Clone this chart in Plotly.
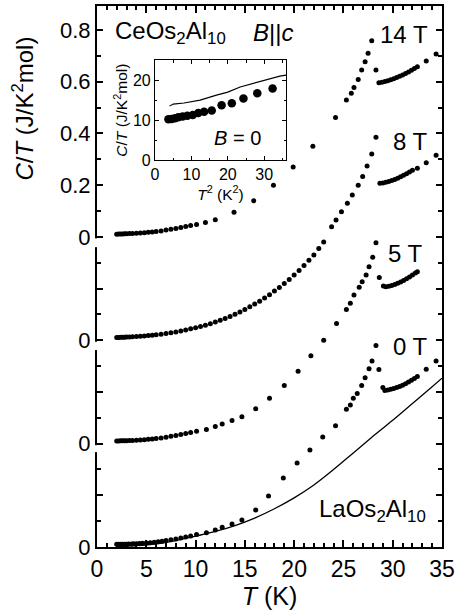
import plotly.graph_objects as go

# ---------------- data ----------------
# main panel: C/T (J/K^2 mol) vs T (K); curves offset by 0.4 each
T_0T = [2.0, 2.2, 2.4, 2.6, 2.8, 3.0, 3.2, 3.5, 3.7, 4.0, 4.3, 4.6, 5.0, 5.4, 5.8, 6.2, 6.6, 7.0, 7.5, 8.0,
        8.5, 9.0, 9.5, 10.1, 11.1, 12.0, 12.7, 13.7, 14.7, 16.1, 17.4, 18.9, 20.3, 21.6, 22.9, 24.2, 25.3,
        25.7, 26.0, 26.4, 26.85, 27.2, 27.6, 27.9, 28.3, 28.6, 29.0, 29.2, 29.5, 29.8, 30.1, 30.4, 30.7,
        31.0, 31.3, 31.6, 31.9, 32.2, 32.5, 33.4, 34.4]
C_0T = [0.0102, 0.0103, 0.0105, 0.0107, 0.0109, 0.0111, 0.0113, 0.0118, 0.0121, 0.0124, 0.0137, 0.0142,
        0.0154, 0.0167, 0.018, 0.020, 0.022, 0.025, 0.028, 0.031, 0.035, 0.039, 0.043, 0.048, 0.055, 0.066,
        0.076, 0.089, 0.104, 0.143, 0.197, 0.267, 0.325, 0.375, 0.426, 0.469, 0.533, 0.549, 0.575, 0.594,
        0.625, 0.655, 0.69, 0.72, 0.78, 0.687, 0.617, 0.605, 0.607, 0.61, 0.613, 0.617, 0.621, 0.626, 0.632,
        0.638, 0.645, 0.652, 0.66, 0.688, 0.72]

T_5T = [2.0, 2.2, 2.4, 2.6, 2.8, 3.0, 3.3, 3.6, 4.0, 4.4, 4.8, 5.2, 5.6, 6.0, 6.5, 7.0, 7.5, 8.0, 8.5, 9.0,
        9.5, 10.1, 11.1, 12.0, 12.7, 13.7, 14.7, 16.1, 17.5, 19.0, 20.4, 21.7, 23.0, 24.3, 25.3, 25.7, 26.07,
        26.6, 26.9, 27.3, 27.6, 27.97, 28.3, 28.64, 29.05, 29.3, 29.6, 29.9, 30.2, 30.5, 30.8, 31.1, 31.4,
        31.7, 32.0, 32.3, 32.5]
C_5T = [0.0102, 0.0104, 0.0106, 0.0108, 0.011, 0.0112, 0.0117, 0.0122, 0.013, 0.014, 0.015, 0.0165, 0.018,
        0.0195, 0.022, 0.025, 0.028, 0.031, 0.035, 0.039, 0.043, 0.048, 0.055, 0.066, 0.076, 0.089, 0.104,
        0.135, 0.175, 0.225, 0.28, 0.34, 0.40, 0.465, 0.519, 0.543, 0.575, 0.605, 0.626, 0.652, 0.684, 0.721,
        0.777, 0.643, 0.61, 0.607, 0.609, 0.612, 0.616, 0.62, 0.625, 0.631, 0.638, 0.645, 0.652, 0.66, 0.665]

T_8T = [2.0, 2.2, 2.4, 2.6, 2.8, 3.0, 3.3, 3.6, 4.0, 4.4, 4.8, 5.2, 5.6, 6.0, 6.5, 7.0, 7.5, 8.0, 8.5, 9.0,
        9.5, 10.0, 10.5, 11.0, 11.5, 12.0, 12.5, 13.0, 13.5, 14.0, 14.5, 15.0, 15.5, 16.0, 16.5, 17.0, 17.5,
        18.0, 18.5, 19.0, 19.5, 20.0, 20.5, 21.0, 21.5, 22.0, 22.5, 23.0, 23.8, 24.25, 24.8, 25.4, 25.9, 26.5,
        26.95, 27.4, 27.87, 28.3, 28.7, 29.0, 29.3, 29.6, 29.9, 30.2, 30.5, 30.8, 31.1, 31.4, 31.7, 32.0,
        32.5, 33.4, 34.4]
C_8T = [0.0102, 0.0105, 0.011, 0.011, 0.0115, 0.012, 0.0125, 0.013, 0.014, 0.015, 0.016, 0.018, 0.019, 0.021,
        0.023, 0.026, 0.029, 0.032, 0.036, 0.040, 0.044, 0.048, 0.053, 0.058, 0.064, 0.070, 0.077, 0.084,
        0.092, 0.100, 0.109, 0.119, 0.129, 0.140, 0.151, 0.163, 0.176, 0.190, 0.204, 0.219, 0.235, 0.252,
        0.270, 0.289, 0.309, 0.33, 0.355, 0.38, 0.439, 0.465, 0.497, 0.530, 0.562, 0.600, 0.633, 0.674, 0.720,
        0.785, 0.607, 0.608, 0.611, 0.614, 0.618, 0.622, 0.627, 0.632, 0.638, 0.644, 0.651, 0.658, 0.665,
        0.687, 0.716]

T_14T = [2.0, 2.2, 2.4, 2.6, 2.8, 3.0, 3.3, 3.6, 4.0, 4.4, 4.8, 5.2, 5.6, 6.0, 6.5, 7.0, 7.5, 8.0, 8.5, 9.0,
         9.5, 10.1, 11.0, 12.0, 13.9, 15.9, 17.9, 19.9, 21.9, 24.2, 25.3, 25.8, 26.07, 26.5, 26.85, 27.2, 27.5,
         27.87, 28.3, 28.6, 28.9, 29.2, 29.5, 29.8, 30.1, 30.4, 30.7, 31.0, 31.3, 31.6, 31.9, 32.2, 32.5,
         33.4, 34.4]
C_14T = [0.0102, 0.0105, 0.011, 0.011, 0.0115, 0.012, 0.0125, 0.013, 0.014, 0.015, 0.016, 0.018, 0.019, 0.021,
         0.023, 0.026, 0.029, 0.032, 0.036, 0.040, 0.044, 0.048, 0.055, 0.066, 0.095, 0.14, 0.20, 0.27, 0.35,
         0.462, 0.529, 0.555, 0.578, 0.609, 0.645, 0.677, 0.71, 0.759, 0.645, 0.596, 0.598, 0.601, 0.604,
         0.608, 0.612, 0.616, 0.621, 0.626, 0.632, 0.638, 0.644, 0.651, 0.658, 0.68, 0.707]

# LaOs2Al10 reference (plotted with the 0 T curve)
T_La = [2.0, 4.0, 6.0, 8.0, 10.0, 12.0, 14.0, 16.0, 18.0, 20.0, 22.0, 24.0, 26.0, 28.0, 30.0, 32.0, 34.0, 35.0]
C_La = [0.002, 0.005, 0.012, 0.025, 0.042, 0.06, 0.083, 0.112, 0.148, 0.19, 0.24, 0.30, 0.364, 0.428, 0.49,
        0.555, 0.62, 0.653]

offsets = {"0 T": 0.0, "5 T": 0.4, "8 T": 0.8, "14 T": 1.2}

# inset: C/T vs T^2 at B = 0
T2_in = [3.7, 4.6, 5.5, 6.4, 7.6, 8.9, 10.4, 11.9, 13.5, 15.6, 18.3, 21.1, 24.3, 28.1, 32.3]
C_in = [10.2, 10.3, 10.5, 10.7, 10.9, 11.1, 11.3, 11.8, 12.1, 12.4, 13.75, 14.2, 15.4, 16.7, 17.9]
T2_La_in = [4.0, 5.0, 8.0, 12.4, 16.9, 20.0, 23.4, 27.0, 30.7, 34.3, 36.0]
C_La_in = [13.5, 14.0, 14.3, 15.0, 16.25, 17.0, 18.3, 19.2, 20.0, 21.0, 21.25]

# y tick labels: each curve restarts at 0 on the broken axis
ylabel_alias = {"0.2": " ", "0.4": "0", "0.6": " ", "0.8": "0", "1": " ", "1.2": "0",
                "1.4": "0.2", "1.6": "0.4", "1.8": "0.6", "2": "0.8"}

# ---------------- figure ----------------
FONT = "Liberation Sans, Arial, Helvetica, sans-serif"
fig = go.Figure()

series = [("0 T", T_0T, C_0T), ("5 T", T_5T, C_5T), ("8 T", T_8T, C_8T), ("14 T", T_14T, C_14T)]
for name, tt, cc in series:
    off = offsets[name]
    fig.add_trace(go.Scatter(x=tt, y=[c + off for c in cc], mode="markers",
                             marker=dict(color="black", size=5), showlegend=False,
                             xaxis="x", yaxis="y"))

fig.add_trace(go.Scatter(x=T_La, y=C_La, mode="lines", line=dict(color="black", width=1.3, shape="spline"),
                         showlegend=False, xaxis="x", yaxis="y"))

fig.add_trace(go.Scatter(x=T2_in, y=C_in, mode="markers", marker=dict(color="black", size=8.5),
                         showlegend=False, xaxis="x2", yaxis="y2"))
fig.add_trace(go.Scatter(x=T2_La_in, y=C_La_in, mode="lines", line=dict(color="black", width=1.1),
                         showlegend=False, xaxis="x2", yaxis="y2"))

Y_TOP = 2.093

fig.update_layout(
    template="none",
    width=457, height=611,
    showlegend=False,
    margin=dict(l=97, r=15, t=6, b=64),
    font=dict(family=FONT, color="black", size=20),
    xaxis=dict(range=[0, 35], domain=[0, 1], dtick=5,
               ticks="inside", ticklen=7, tickwidth=2, tickcolor="black",
               showline=True, linewidth=2, linecolor="black", mirror="ticks",
               showgrid=False, zeroline=False,
               minor=dict(dtick=1, ticks="inside", ticklen=4, tickcolor="black"),
               tickfont=dict(size=23),
               title=dict(text="<i>T</i> (K)", font=dict(size=25), standoff=2)),
    yaxis=dict(range=[0, Y_TOP], domain=[0, 1], dtick=0.2,
               labelalias=ylabel_alias,
               ticks="inside", ticklen=6, tickwidth=2, tickcolor="black",
               showline=True, linewidth=2, linecolor="black", mirror="ticks",
               showgrid=False, zeroline=False,
               minor=dict(dtick=0.1, ticks="inside", ticklen=4, tickcolor="black"),
               tickfont=dict(size=22)),
    xaxis2=dict(range=[0, 36], domain=[0.168, 0.548], anchor="y2", dtick=10,
                ticks="inside", ticklen=4, tickwidth=1, tickcolor="black",
                showline=True, linewidth=1, linecolor="black", mirror="ticks",
                showgrid=False, zeroline=False,
                minor=dict(dtick=5, ticks="inside", ticklen=2.5, tickcolor="black"),
                tickfont=dict(size=16),
                title=dict(text="<i>T</i><sup>2</sup> (K<sup>2</sup>)", font=dict(size=15.5), standoff=1)),
    yaxis2=dict(range=[0, 25], domain=[0.715, 0.900], anchor="x2", dtick=10,
                ticks="inside", ticklen=4, tickwidth=1, tickcolor="black",
                showline=True, linewidth=1, linecolor="black", mirror="ticks",
                showgrid=False, zeroline=False,
                minor=dict(dtick=5, ticks="inside", ticklen=2.5, tickcolor="black"),
                tickfont=dict(size=16),
                title=dict(text="<i>C</i>/<i>T</i> (J/K<sup>2</sup>mol)", font=dict(size=15.5), standoff=1)),
)

# breaks in the left axis line (white gaps just below each curve's zero)
gaps = [(0.367, 0.394), (0.762, 0.794), (1.16, 1.194)]
for y0, y1 in gaps:
    fig.add_shape(type="line", xref="paper", yref="y", x0=0, x1=0, y0=y0, y1=y1,
                  line=dict(color="white", width=5))

# y-axis title placed toward the top
fig.add_annotation(xref="paper", yref="paper", x=-0.215, y=0.81, textangle=-90, showarrow=False,
                   text="<i>C</i>/<i>T</i> (J/K<sup>2</sup>mol)", font=dict(size=24),
                   xanchor="center", yanchor="middle")

labels = [
    ("CeOs<sub>2</sub>Al<sub>10</sub>", 1.6, 1.99, "left", 24),
    ("<i>B</i>||<i>c</i>", 15.6, 1.99, "left", 24),
    ("14 T", 33.8, 1.981, "right", 24),
    ("8 T", 33.8, 1.567, "right", 24),
    ("5 T", 33.3, 1.137, "right", 24),
    ("0 T", 33.8, 0.774, "right", 24),
    ("LaOs<sub>2</sub>Al<sub>10</sub>", 33.6, 0.143, "right", 24),
]
for txt, x, y, anc, sz in labels:
    fig.add_annotation(x=x, y=y, xref="x", yref="y", text=txt, showarrow=False, xanchor=anc,
                       yanchor="middle", font=dict(size=sz))

fig.add_annotation(x=22.8, y=5.5, xref="x2", yref="y2", text="<i>B</i> = 0", showarrow=False,
                   xanchor="center", yanchor="middle", font=dict(size=20))

fig.write_html("out.html", config={"displayModeBar": False},
               post_script="document.body.style.margin='0';document.body.style.overflow='hidden';")
